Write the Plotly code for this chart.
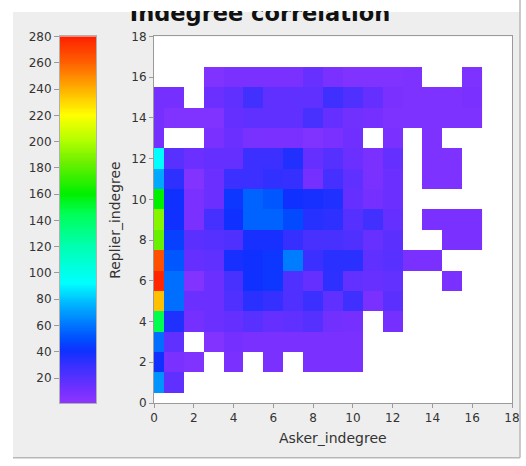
import numpy as np
import plotly.graph_objects as go

N = None
# Data: counts per (Asker_indegree, Replier_indegree) cell; rows indexed by replier indegree
asker_indegree = list(range(17))
replier_indegree = list(range(17))

row_0 = [N] * 17
row_1 = [68, 17, N, N, N, N, N, N, N, N, N, N, N, N, N, N, N]
row_2 = [40, 8, 6, N, 8, N, 8, N, 8, 8, 8, N, N, N, N, N, N]
row_3 = [58, 17, N, 5, 10, 8, 8, 8, 8, 8, 8, N, N, N, N, N, N]
row_4 = [146, 36, 10, 13, 15, 19, 15, 17, 20, 11, 10, N, 10, N, N, N, N]
row_5 = [236, 58, 13, 13, 22, 33, 30, 22, 28, 17, 27, 8, 18, N, N, N, N]
row_6 = [278, 58, 5, 13, 24, 40, 42, 22, 15, 32, 16, 14, 16, N, N, 8, N]
row_7 = [265, 52, 15, 17, 38, 40, 42, 62, 28, 33, 33, 17, 19, 8, 8, N, N]
row_8 = [183, 45, 18, 20, 22, 38, 38, 30, 24, 24, 22, 14, 18, N, N, 8, 8]
row_9 = [190, 40, 8, 25, 40, 55, 55, 48, 34, 32, 20, 26, 15, N, 8, 8, 8]
row_10 = [160, 40, 8, 13, 42, 55, 52, 40, 38, 36, 15, 10, 13, N, N, N, N]
row_11 = [73, 32, 5, 13, 28, 28, 31, 30, 10, 25, 17, 8, 13, N, 7, 7, N]
row_12 = [92, 19, 13, 15, 15, 28, 28, 35, 15, 20, 13, 8, 15, N, 7, 7, N]
row_13 = [10, N, N, 8, 13, 9, 8, 8, 6, 8, 12, N, 8, N, 7, N, N]
row_14 = [10, 6, 6, 6, 15, 17, 17, 17, 24, 15, 11, 10, 7, 7, 7, 7, 7]
row_15 = [10, 10, N, 13, 17, 26, 17, 17, 17, 27, 22, 15, 8, 7, 7, 7, 8]
row_16 = [N, N, N, 6, 8, 8, 8, 8, 14, 8, 6, 6, 6, 7, N, N, 7]

rows = [row_0, row_1, row_2, row_3, row_4, row_5, row_6, row_7, row_8,
        row_9, row_10, row_11, row_12, row_13, row_14, row_15, row_16]

title_text = "Indegree correlation"
x_title = "Asker_indegree"
y_title = "Replier_indegree"

z_min, z_max = 1, 280
colorbar_ticks = list(range(20, 281, 20))

stop_values = [1, 10, 20, 30, 40, 50, 60, 75, 92, 120, 145, 160, 185, 200, 220, 240, 260, 280]
stop_colors = ["#8d35ff", "#7530ff", "#5530ff", "#3530ff", "#1030ff", "#0050ff",
               "#0075ff", "#00b0ff", "#00ffff", "#00ffb0", "#00ff55", "#00f000",
               "#70f000", "#b0ff00", "#ffff00", "#ffb000", "#ff6000", "#ff2000"]
colorscale = [[(v - z_min) / (z_max - z_min), c] for v, c in zip(stop_values, stop_colors)]

# pixel geometry
W, H = 526, 466
L, R, T0, B = 60, 512, 11, 403.3   # paper area (top at title clip line)
PLOT_TOP = 36.5


def px(x):
    return (x - L) / (R - L)


def py(y):
    return (B - y) / (B - T0)


fig = go.Figure()

fig.add_trace(go.Heatmap(
    z=rows, x=asker_indegree, y=replier_indegree,
    colorscale=colorscale, zmin=z_min, zmax=z_max, showscale=False,
    xaxis="x", yaxis="y", hoverongaps=False))

bar_vals = np.linspace(z_min, z_max, 400)
fig.add_trace(go.Heatmap(
    z=[[v] for v in bar_vals], x=[0], y=bar_vals,
    colorscale=colorscale, zmin=z_min, zmax=z_max, showscale=False,
    xaxis="x2", yaxis="y2", hoverinfo="skip"))

# title as clipped text (top is cut off in the original)
fig.add_trace(go.Scatter(
    x=[260], y=[15], mode="text", text=[f"<b>{title_text}</b>"],
    textposition="middle center", cliponaxis=True,
    textfont=dict(family="DejaVu Sans", size=22.5, color="#111111"),
    xaxis="x3", yaxis="y3", hoverinfo="skip"))

tickfont = dict(family="DejaVu Sans", size=12, color="#333333")
axis_common = dict(showgrid=False, zeroline=False, showline=True, mirror=True,
                   linecolor="#9a9a9a", linewidth=1, ticks="outside", ticklen=4,
                   tickcolor="#9a9a9a", tickfont=tickfont, automargin=False)

fig.update_layout(
    template="none",
    width=W, height=H,
    margin=dict(l=L, r=W - R, t=T0, b=H - B, pad=0, autoexpand=False),
    paper_bgcolor="white", plot_bgcolor="rgba(0,0,0,0)",
    showlegend=False,
    xaxis=dict(domain=[px(154), 1], range=[0, 18], dtick=2, anchor="y", **axis_common),
    yaxis=dict(domain=[0, py(PLOT_TOP)], range=[0, 18], dtick=2, anchor="x", **axis_common),
    xaxis2=dict(domain=[0, px(96)], range=[-0.5, 0.5], anchor="y2", automargin=False,
                showticklabels=False, showgrid=False, zeroline=False,
                showline=True, mirror=True, linecolor="#b0b0b0", ticks=""),
    yaxis2=dict(domain=[0, py(PLOT_TOP)], range=[z_min, z_max], anchor="x2", side="left",
                tickvals=colorbar_ticks, showgrid=False, zeroline=False, automargin=False,
                showline=True, mirror=True, linecolor="#b0b0b0",
                ticks="outside", ticklen=5, tickcolor="#9a9a9a", tickfont=tickfont),
    xaxis3=dict(domain=[0, 1], range=[L, R], anchor="y3", visible=False, automargin=False),
    yaxis3=dict(domain=[py(34), 1], range=[34, T0], anchor="x3", visible=False, automargin=False),
    shapes=[
        dict(type="rect", xref="paper", yref="paper", x0=px(13), x1=px(520),
             y0=py(458), y1=py(12), fillcolor="#eeeeee", line=dict(width=0), layer="below"),
        dict(type="rect", xref="paper", yref="paper", x0=px(154), x1=1,
             y0=0, y1=py(PLOT_TOP), fillcolor="white", line=dict(width=0), layer="below"),
        dict(type="line", xref="paper", yref="paper", x0=px(520), x1=px(520),
             y0=py(458), y1=py(0), line=dict(color="#b8b8b8", width=1.5), layer="below"),
        dict(type="line", xref="paper", yref="paper", x0=px(13), x1=px(520),
             y0=py(458), y1=py(458), line=dict(color="#b8b8b8", width=1.5), layer="below"),
    ],
    annotations=[
        dict(text=x_title, xref="paper", yref="paper",
             x=px(333), y=py(438), xanchor="center", yanchor="middle", showarrow=False,
             font=dict(family="DejaVu Sans", size=14, color="#333333")),
        dict(text=y_title, xref="paper", yref="paper",
             x=px(115), y=py(220), xanchor="center", yanchor="middle", showarrow=False,
             textangle=-90, font=dict(family="DejaVu Sans", size=14, color="#333333")),
    ],
)

fig.write_html("out.html")
